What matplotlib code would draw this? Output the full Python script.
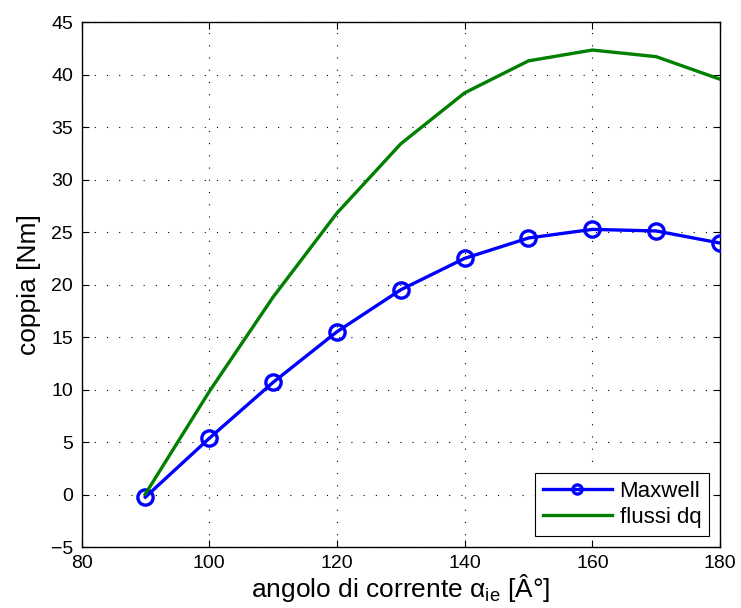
import matplotlib
matplotlib.use("Agg")
import matplotlib.pyplot as plt

plt.rcParams['font.family'] = ['Liberation Sans', 'DejaVu Sans']
plt.rcParams['mathtext.fontset'] = 'custom'
plt.rcParams['mathtext.rm'] = 'Liberation Sans'
plt.rcParams['mathtext.it'] = 'Liberation Sans:italic'

# current angle [deg] and torque [Nm]
angle = [90, 100, 110, 120, 130, 140, 150, 160, 170, 180]
torque_maxwell = [-0.25, 5.35, 10.68, 15.5, 19.5, 22.49, 24.43, 25.25, 25.1, 23.95]
torque_dq = [0.05, 9.8, 18.8, 26.8, 33.4, 38.25, 41.3, 42.33, 41.7, 39.55]

x_ticks = [80, 100, 120, 140, 160, 180]
y_ticks = [-5, 0, 5, 10, 15, 20, 25, 30, 35, 40, 45]

fig = plt.figure(figsize=(7.41, 6.08), dpi=100)
ax = fig.add_axes([0.110, 0.1003, 0.9717 - 0.110, 0.9638 - 0.1003])

ax.plot(angle, torque_maxwell, color='#0000ff', lw=2.4, marker='o',
        markersize=11, markerfacecolor='none', markeredgewidth=2.4,
        label='Maxwell', zorder=3)
ax.plot(angle, torque_dq, color='#007f00', lw=2.4, label='flussi dq', zorder=3)

ax.set_xlim(80, 180)
ax.set_ylim(-5, 45)
ax.set_xticks(x_ticks)
ax.set_yticks(y_ticks)
ax.tick_params(direction='in', top=True, right=True, labelsize=14,
               length=5, width=0.8, pad=6)
for s in ax.spines.values():
    s.set_linewidth(1.0)

ax.grid(True, color='black', linestyle=(0, (1, 10)), linewidth=0.8)

ax.set_ylabel('coppia [Nm]', fontsize=19, labelpad=7)
ax.set_xlabel('angolo di corrente α$_{\\mathrm{ie}}$ [Â°]', fontsize=19, labelpad=0)

leg = ax.legend(loc='lower right', fontsize=16, fancybox=False,
                edgecolor='black', framealpha=1, borderaxespad=0.5,
                handlelength=3.1, handletextpad=0.36, borderpad=0.35,
                labelspacing=0.25, markerscale=0.6)
leg.get_frame().set_linewidth(0.8)

fig.savefig('out.png', dpi=100)
